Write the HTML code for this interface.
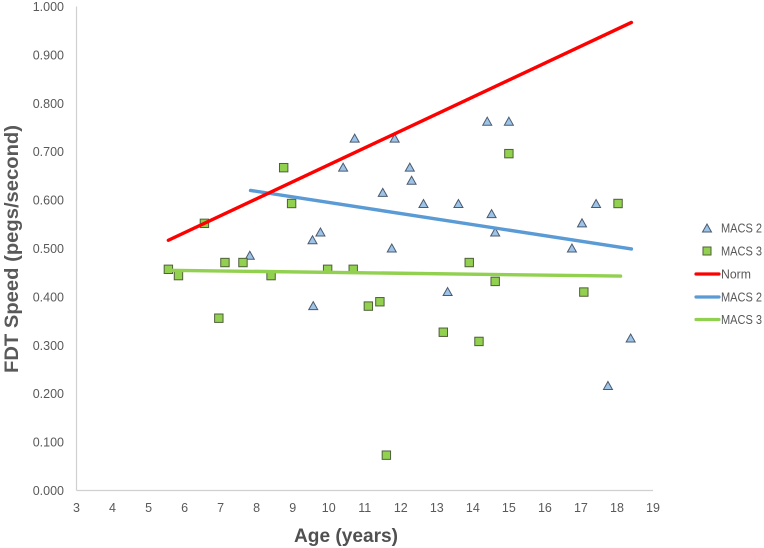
<!DOCTYPE html>
<html lang="en">
<head>
<meta charset="utf-8">
<title>FDT Speed by Age</title>
<style>
html,body{margin:0;padding:0;background:#fff;width:764px;height:548px;overflow:hidden}
svg{display:block;font-family:"Liberation Sans",sans-serif}
</style>
</head>
<body>
<svg id="chart" width="764" height="548" viewBox="0 0 764 548" xmlns="http://www.w3.org/2000/svg">
  <rect x="0" y="0" width="764" height="548" fill="#ffffff"/>
  <g id="axes"></g>
  <g id="marks"></g>
  <text transform="translate(18,249) rotate(-90)" text-anchor="middle" font-size="19" font-weight="700" fill="#595959" textLength="248" lengthAdjust="spacingAndGlyphs">FDT Speed (pegs/second)</text>
  <text x="346" y="542" text-anchor="middle" font-size="19" font-weight="700" fill="#505050" textLength="104" lengthAdjust="spacingAndGlyphs">Age (years)</text>
  <g>
    <g>
      <polygon points="707,224 711.5,232 702.5,232" fill="#9dc3e6" stroke="#4a5a70" stroke-width="1"/>
      <text x="721" y="232.5" font-size="12.5" fill="#595959" textLength="41" lengthAdjust="spacingAndGlyphs">MACS 2</text>
    </g>
    <g>
      <rect x="703" y="247" width="8" height="8" fill="#92d050" stroke="#4f5f3a" stroke-width="1"/>
      <text x="721" y="255.5" font-size="12.5" fill="#595959" textLength="41" lengthAdjust="spacingAndGlyphs">MACS 3</text>
    </g>
    <g>
      <line x1="696" y1="274" x2="719" y2="274" stroke="#ff0000" stroke-width="3.2" stroke-linecap="round"/>
      <text x="721" y="278.5" font-size="12.5" fill="#595959" textLength="30" lengthAdjust="spacingAndGlyphs">Norm</text>
    </g>
    <g>
      <line x1="696" y1="297" x2="719" y2="297" stroke="#5b9bd5" stroke-width="3.2" stroke-linecap="round"/>
      <text x="721" y="301.5" font-size="12.5" fill="#595959" textLength="41" lengthAdjust="spacingAndGlyphs">MACS 2</text>
    </g>
    <g>
      <line x1="696" y1="319.5" x2="719" y2="319.5" stroke="#92d050" stroke-width="3.2" stroke-linecap="round"/>
      <text x="721" y="324" font-size="12.5" fill="#595959" textLength="41" lengthAdjust="spacingAndGlyphs">MACS 3</text>
    </g>
  </g>
</svg>
<script>
const xTicks = [3,4,5,6,7,8,9,10,11,12,13,14,15,16,17,18,19];
const yTicks = [0,0.1,0.2,0.3,0.4,0.5,0.6,0.7,0.8,0.9,1.0];

const macs2Ages = [7.81,9.55,9.57,9.77,10.4,10.72,11.5,11.75,11.83,12.25,12.3,12.63,13.3,13.6,14.4,14.52,14.62,15.0,16.75,17.03,17.42,17.75,18.38];
const macs2Speeds = [0.485,0.517,0.381,0.533,0.667,0.727,0.615,0.5,0.727,0.667,0.64,0.592,0.41,0.592,0.762,0.571,0.533,0.762,0.5,0.552,0.592,0.216,0.314];

const macs3Ages = [5.55,5.83,6.55,6.95,7.12,7.62,8.4,8.75,8.97,9.97,10.68,11.1,11.42,11.6,13.18,13.9,14.17,14.62,15.0,17.08,18.03];
const macs3Speeds = [0.457,0.444,0.552,0.356,0.471,0.471,0.444,0.667,0.593,0.457,0.457,0.381,0.39,0.073,0.327,0.471,0.308,0.432,0.696,0.41,0.593];

const normLineAges = [5.55,18.4];
const normLineSpeeds = [0.517,0.967];
const macs2LineAges = [7.83,18.4];
const macs2LineSpeeds = [0.62,0.499];
const macs3LineAges = [5.55,18.1];
const macs3LineSpeeds = [0.455,0.443];

const NS = 'http://www.w3.org/2000/svg';
const xScale = function (v) { return 76.5 + (v - 3) * (653 - 76.5) / 16; };
const yScale = function (v) { return 490.5 - v * 484; };
const axes = document.getElementById('axes');
const marks = document.getElementById('marks');

function make(tag, attrs, parent) {
  const el = document.createElementNS(NS, tag);
  Object.keys(attrs).forEach(function (k) { el.setAttribute(k, attrs[k]); });
  parent.appendChild(el);
  return el;
}

const yAxis = make('line', {x1: xScale(3), y1: yScale(1), x2: xScale(3), y2: yScale(0), stroke: '#d0d0d0', 'stroke-width': 1.2}, axes);


const xAxis = make('line', {x1: xScale(3), y1: yScale(0), x2: xScale(19), y2: yScale(0), stroke: '#d0d0d0', 'stroke-width': 1.2}, axes);



xTicks.forEach(function (t) {
  const el = make('text', {x: xScale(t), y: 512, 'text-anchor': 'middle', 'font-size': 12.5, fill: '#595959'}, axes);
  
  
  el.textContent = String(t);
});
yTicks.forEach(function (t) {
  const el = make('text', {x: 64, y: yScale(t) + 4.5, 'text-anchor': 'end', 'font-size': 12.5, fill: '#595959'}, axes);
  
  
  el.textContent = t.toFixed(3);
});

macs2Ages.forEach(function (a, i) {
  const cx = xScale(a);
  const cy = yScale(macs2Speeds[i]);
  const pts = cx + ',' + (cy - 4.5) + ' ' + (cx + 4.5) + ',' + (cy + 3.5) + ' ' + (cx - 4.5) + ',' + (cy + 3.5);
  const el = make('polygon', {points: pts, fill: '#9dc3e6', stroke: '#4a5a70', 'stroke-width': 1}, marks);
  
  
});
macs3Ages.forEach(function (a, i) {
  const cx = xScale(a);
  const cy = yScale(macs3Speeds[i]);
  const el = make('rect', {x: cx - 4.2, y: cy - 4.2, width: 8.4, height: 8.4, fill: '#92d050', stroke: '#4f5f3a', 'stroke-width': 1}, marks);
  
  
});

function trend(ages, speeds, color) {
  return make('line', {x1: xScale(ages[0]), y1: yScale(speeds[0]), x2: xScale(ages[1]), y2: yScale(speeds[1]), stroke: color, 'stroke-width': 3.4, 'stroke-linecap': 'round'}, marks);
}
const macs3Line = trend(macs3LineAges, macs3LineSpeeds, '#92d050');


const macs2Line = trend(macs2LineAges, macs2LineSpeeds, '#5b9bd5');


const normLine = trend(normLineAges, normLineSpeeds, '#ff0000');


</script>
</body>
</html>
